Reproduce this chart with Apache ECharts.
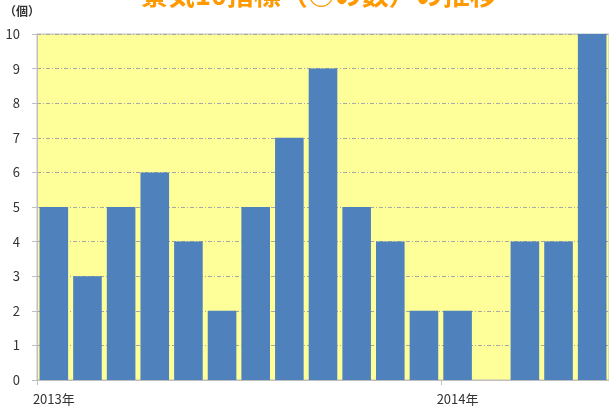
<!DOCTYPE html>
<html><head><meta charset="utf-8">
<script src="https://cdn.jsdelivr.net/npm/echarts@6/dist/echarts.min.js"></script>
<style>html,body{margin:0;padding:0;background:#fff}#c{width:609px;height:408px}</style>
</head><body><div id="c"></div>
<script>
const categories = ['2013年1月','2013年2月','2013年3月','2013年4月','2013年5月','2013年6月','2013年7月','2013年8月','2013年9月','2013年10月','2013年11月','2013年12月','2014年1月','2014年2月','2014年3月','2014年4月','2014年5月'];
const values = [5,3,5,6,4,2,5,7,9,5,4,2,2,0,4,4,10];
const yTicks = [0,1,2,3,4,5,6,7,8,9,10];
const titleText = '景気10指標（○の数）の推移';
const unitText = '（個）';
const font = '"Noto Sans CJK JP", "Noto Sans", sans-serif';
const chart = echarts.init(document.getElementById('c'));
chart.setOption({
  animation: false,
  backgroundColor: '#fff',
  title: { text: titleText, left: 136, top: -24,
    textStyle: { color: '#FF9900', fontSize: 27, fontWeight: 'bold', fontFamily: font } },
  graphic: [{ type: 'text', left: 4, top: 5, style: { text: unitText, fill: '#333', font: 'bold 12px ' + font } }],
  grid: { left: 37, right: -3, top: 34, bottom: 28, backgroundColor: '#FFFF99', show: true, borderColor: '#BFBFBF', borderWidth: 1 },
  xAxis: { type: 'category', data: categories,
    axisLine: { lineStyle: { color: '#BFBFBF' } },
    axisTick: { show: true, length: 5, interval: (i) => i === 0 || i === 12, lineStyle: { color: '#BFBFBF' } },
    axisLabel: { interval: 0, margin: 13, color: '#333', fontSize: 13, fontFamily: font,
      formatter: (v) => v.endsWith('年1月') ? v.replace('1月', '') : '' } },
  yAxis: { type: 'value', min: yTicks[0], max: yTicks[yTicks.length - 1], interval: 1,
    axisLine: { show: true, lineStyle: { color: '#BFBFBF' } },
    axisTick: { show: true, length: 5, lineStyle: { color: '#BFBFBF' } },
    splitLine: { lineStyle: { color: '#A6A6A6', type: [4, 2, 1, 2] } },
    axisLabel: { color: '#333', fontSize: 13, margin: 17, fontFamily: font } },
  series: [{ type: 'bar', data: values, barCategoryGap: '15%',
    itemStyle: { color: '#4F81BD' } }]
});
</script></body></html>
